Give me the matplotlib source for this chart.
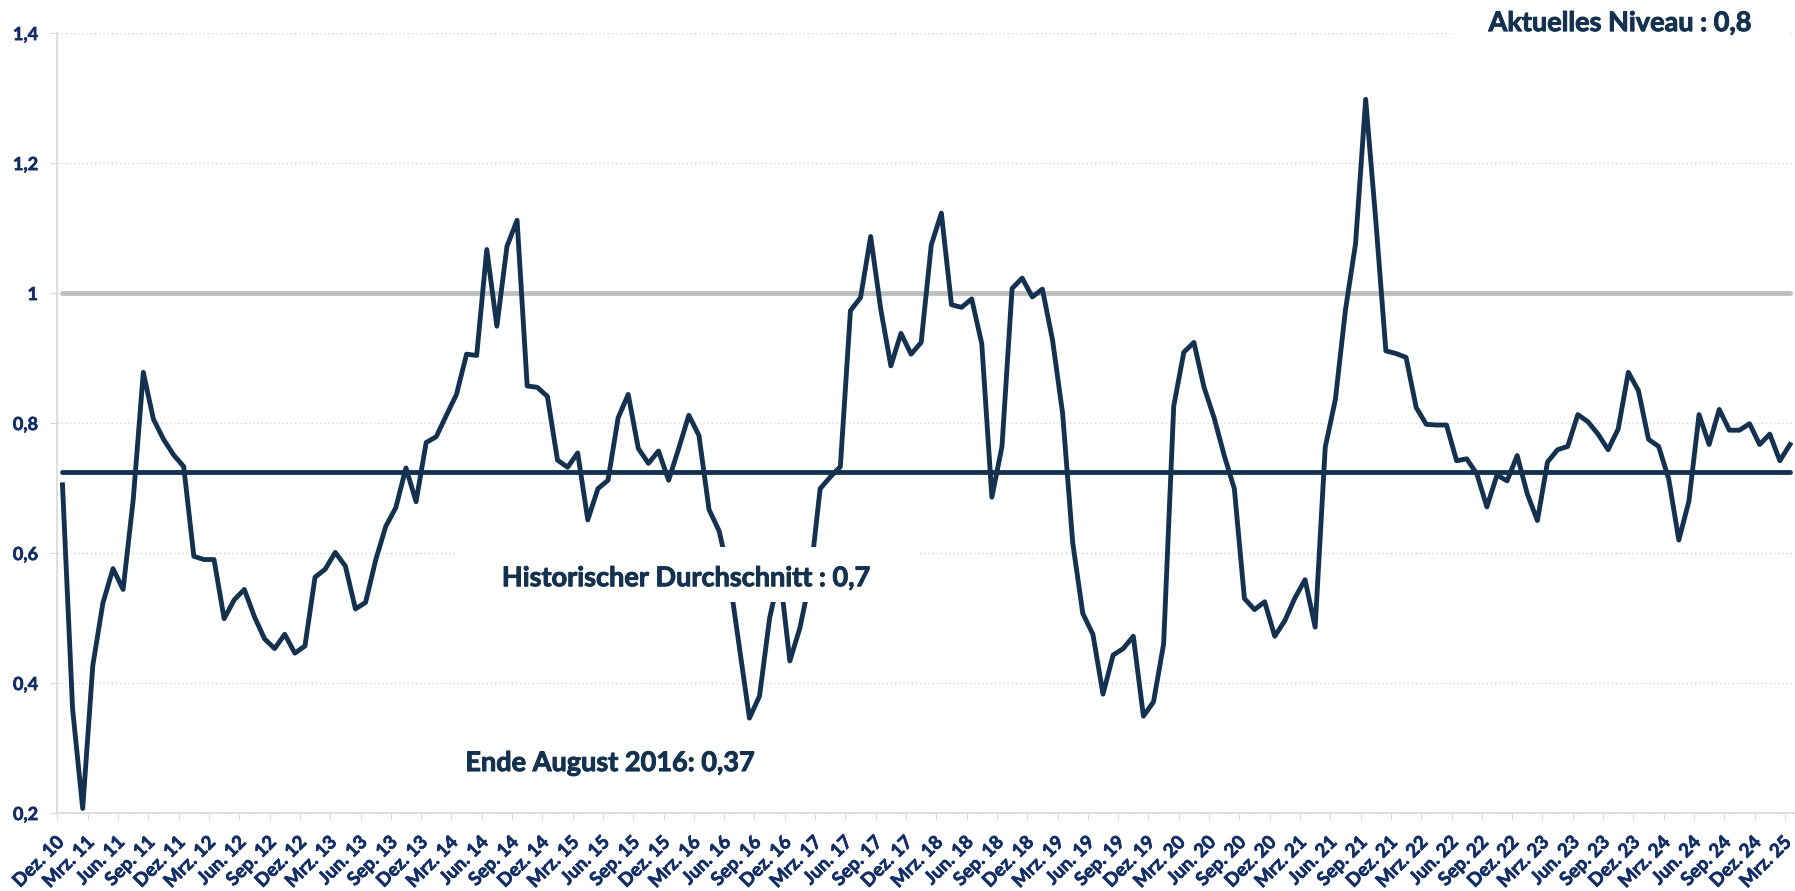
import matplotlib

matplotlib.use("Agg")
import matplotlib.pyplot as plt
import matplotlib.patheffects as pe
import numpy as np
from matplotlib.patches import Rectangle

NAVY = "#14324f"
TICK_COLOR = "#132f66"
GRID_COLOR = "#d4d4d4"
SPINE_COLOR = "#d9d9d9"
GRAY_LINE = "#bfbfbf"

# Monatswerte Dez. 2010 - Mrz. 2025
werte_2010 = [0.705]
werte_2011 = [0.360, 0.207, 0.427, 0.523, 0.576, 0.544, 0.682, 0.878, 0.806, 0.775, 0.751, 0.733]
werte_2012 = [0.595, 0.590, 0.590, 0.499, 0.528, 0.544, 0.502, 0.468, 0.453, 0.475, 0.446, 0.457]
werte_2013 = [0.563, 0.575, 0.601, 0.580, 0.514, 0.524, 0.589, 0.641, 0.670, 0.731, 0.679, 0.770]
werte_2014 = [0.779, 0.812, 0.844, 0.906, 0.904, 1.067, 0.949, 1.072, 1.112, 0.857, 0.855, 0.841]
werte_2015 = [0.743, 0.732, 0.754, 0.651, 0.699, 0.712, 0.808, 0.844, 0.761, 0.738, 0.757, 0.712]
werte_2016 = [0.761, 0.812, 0.781, 0.667, 0.634, 0.565, 0.455, 0.346, 0.380, 0.500, 0.570, 0.434]
werte_2017 = [0.485, 0.560, 0.699, 0.717, 0.733, 0.973, 0.993, 1.087, 0.975, 0.888, 0.938, 0.906]
werte_2018 = [0.924, 1.074, 1.123, 0.982, 0.978, 0.991, 0.922, 0.686, 0.764, 1.007, 1.023, 0.994]
werte_2019 = [1.006, 0.928, 0.815, 0.616, 0.507, 0.475, 0.383, 0.443, 0.453, 0.472, 0.349, 0.371]
werte_2020 = [0.460, 0.826, 0.909, 0.924, 0.855, 0.808, 0.750, 0.699, 0.530, 0.513, 0.525, 0.472]
werte_2021 = [0.496, 0.531, 0.559, 0.486, 0.763, 0.836, 0.974, 1.076, 1.298, 1.112, 0.911, 0.907]
werte_2022 = [0.901, 0.824, 0.798, 0.797, 0.797, 0.742, 0.745, 0.722, 0.671, 0.720, 0.711, 0.750]
werte_2023 = [0.691, 0.650, 0.740, 0.759, 0.764, 0.813, 0.802, 0.783, 0.759, 0.791, 0.878, 0.850]
werte_2024 = [0.775, 0.764, 0.714, 0.620, 0.680, 0.813, 0.767, 0.821, 0.789, 0.789, 0.799, 0.767]
werte_2025 = [0.783, 0.742, 0.767]

durchschnitt = 0.725
obergrenze = 1.0

ytick_werte = [0.2, 0.4, 0.6, 0.8, 1.0, 1.2, 1.4]
ytick_labels = ["0,2", "0,4", "0,6", "0,8", "1", "1,2", "1,4"]

quartal_namen = {11: "Dez.", 2: "Mrz.", 5: "Jun.", 8: "Sep."}

werte = (werte_2010 + werte_2011 + werte_2012 + werte_2013 + werte_2014
         + werte_2015 + werte_2016 + werte_2017 + werte_2018 + werte_2019
         + werte_2020 + werte_2021 + werte_2022 + werte_2023 + werte_2024
         + werte_2025)
n = len(werte)
x = np.arange(n)

# quarterly labels starting Dez. 10 (month index 11 of 2010)
label_pos = list(range(0, n, 3))
xtick_labels = []
for k in label_pos:
    m = (11 + k) % 12
    jahr = 10 + (11 + k) // 12
    xtick_labels.append(f"{quartal_namen[m]} {jahr:02d}")

plt.rcParams["font.family"] = ["Lato", "DejaVu Sans"]
plt.rcParams["font.weight"] = "bold"

# slightly heavier strokes, closer to the Calibri bold of the original
heavy = [pe.withStroke(linewidth=0.7, foreground=NAVY)]
heavy_tick = [pe.withStroke(linewidth=0.5, foreground=TICK_COLOR)]

fig = plt.figure(figsize=(17.95, 8.91), dpi=100)
ax = fig.add_axes([0.032, 0.0875, 0.968, 0.8754])

ax.plot(x, [obergrenze] * n, color=GRAY_LINE, lw=3.5, solid_capstyle="round", zorder=2)
ax.plot(x, [durchschnitt] * n, color=NAVY, lw=3.5, solid_capstyle="round", zorder=2.5)
ax.plot(x, werte, color=NAVY, lw=3.5, solid_joinstyle="round", zorder=3)

ax.set_xlim(-0.5, n - 0.5)
ax.set_ylim(0.2, 1.4)

ax.set_yticks(ytick_werte)
ax.set_yticklabels(ytick_labels)
ax.yaxis.grid(True, linestyle=(0, (1, 2)), color=GRID_COLOR, lw=1.0)
ax.set_axisbelow(True)

# tick marks sit between the quarters, labels are centred on the month
ax.set_xticks(np.arange(-0.5, n - 1, 3))
ax.set_xticklabels([])
ax.set_xticks([p - 0.15 for p in label_pos], minor=True)
ax.set_xticklabels(xtick_labels, minor=True, rotation=45, ha="right",
                   va="center", rotation_mode="anchor", fontsize=13.5,
                   fontweight="bold", color=TICK_COLOR)

ax.tick_params(axis="y", length=5, color=SPINE_COLOR, labelcolor=TICK_COLOR,
               labelsize=13, pad=9)
ax.tick_params(axis="x", which="major", length=5, color=SPINE_COLOR)
ax.tick_params(axis="x", which="minor", length=0, pad=19)

for lbl in ax.get_yticklabels() + ax.get_xticklabels(minor=True):
    lbl.set_path_effects(heavy_tick)

for s in ("top", "right"):
    ax.spines[s].set_visible(False)
for s in ("left", "bottom"):
    ax.spines[s].set_color(SPINE_COLOR)
    ax.spines[s].set_linewidth(1.2)

# white text boxes as in the original
ax.add_patch(Rectangle((38.96, 0.525), 84.7 - 38.96, 0.609 - 0.525,
                       facecolor="white", edgecolor="none", zorder=4))
ax.text(61.7, 0.549, "Historischer Durchschnitt : 0,7", ha="center",
        va="baseline", fontsize=19.5, fontweight="bold", color=NAVY, zorder=5,
        path_effects=heavy)

ax.add_patch(Rectangle((137.7, 1.39), 33.1, 0.06, facecolor="white",
                       edgecolor="none", zorder=4, clip_on=False))
ax.text(154.2, 1.403, "Aktuelles Niveau : 0,8", ha="center", va="baseline",
        fontsize=19.5, fontweight="bold", color=NAVY, zorder=5, clip_on=False,
        path_effects=heavy)

ax.text(54.2, 0.2646, "Ende August 2016: 0,37", ha="center", va="baseline",
        fontsize=19.5, fontweight="bold", color=NAVY, zorder=5,
        path_effects=heavy)

fig.savefig("out.png", dpi=100, facecolor="white")
